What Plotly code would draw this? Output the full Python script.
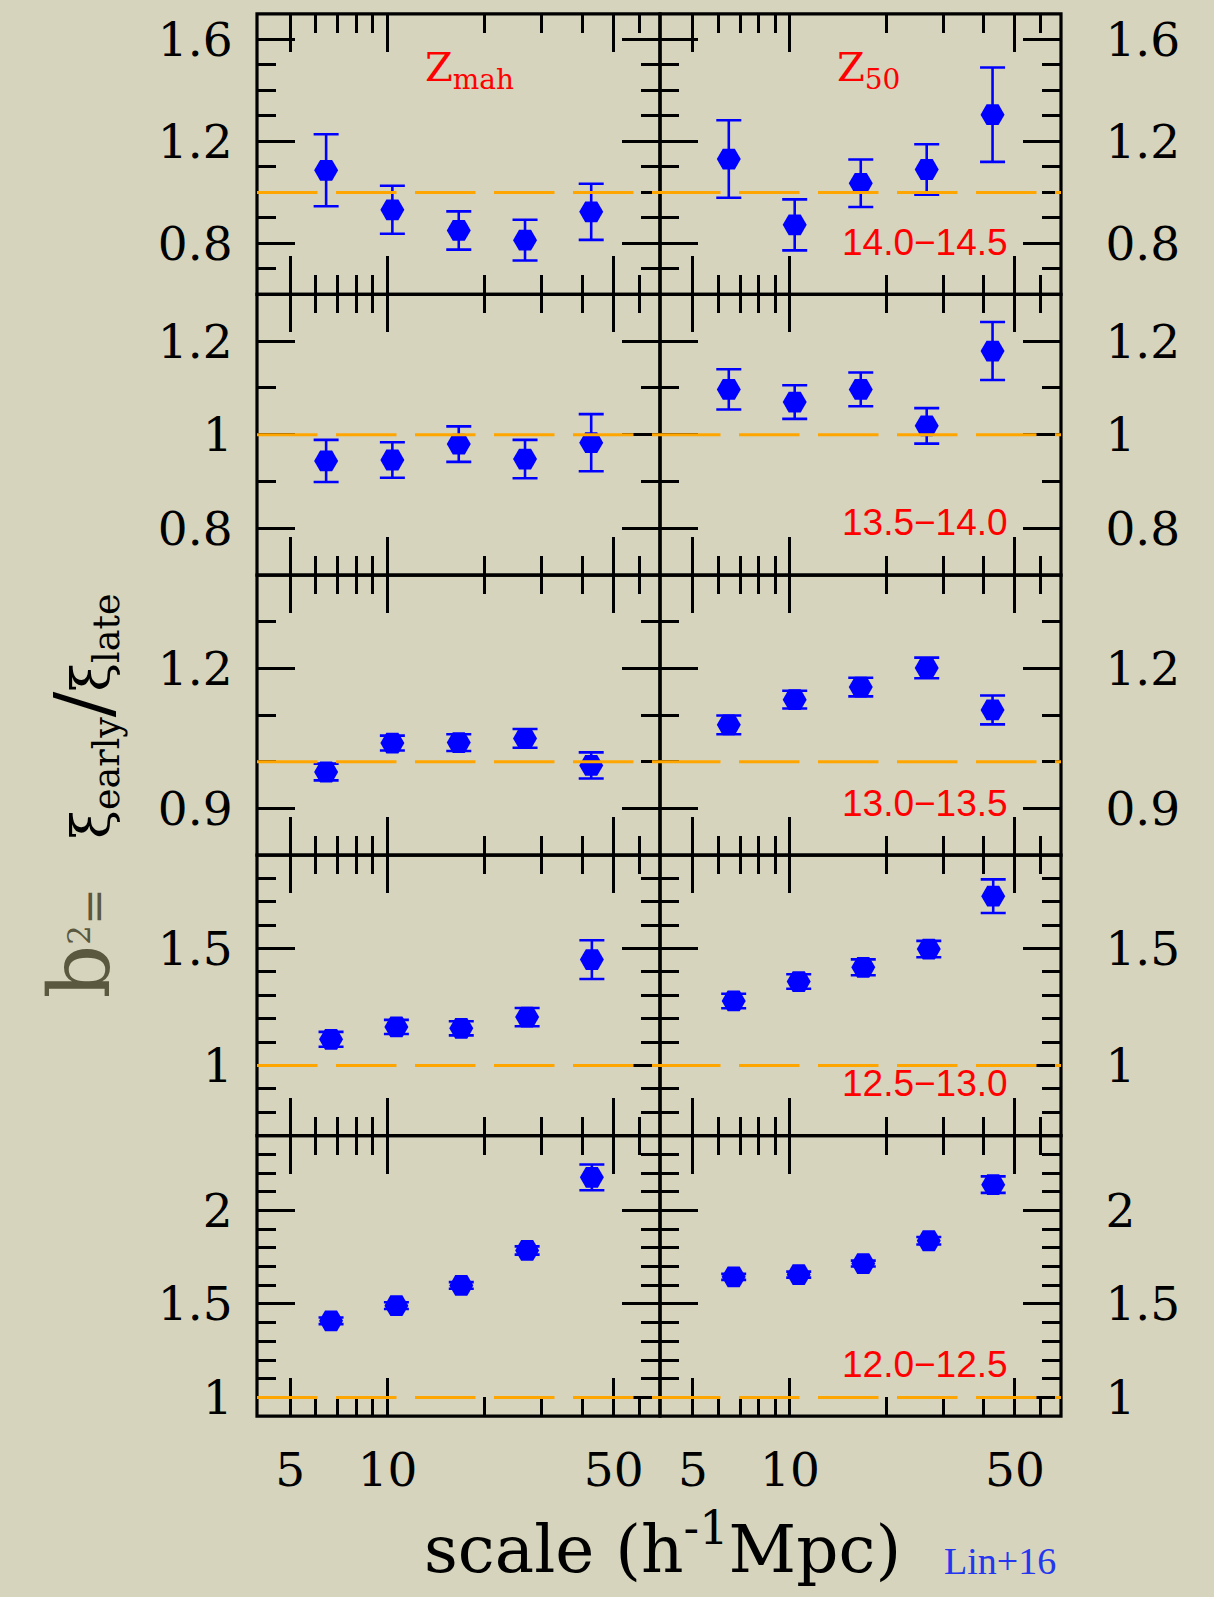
import math
import plotly.graph_objects as go

W, H = 1214, 1597

# ---------------- data ----------------
# separation scale (h^-1 Mpc) of the bins
scale_hi = [6.46, 10.35, 16.6, 26.6, 42.6]   # upper three mass bins
scale_lo = [6.69, 10.65, 16.9, 27.0, 42.8]   # lower two mass bins

mass_bins = ["14.0\u221214.5", "13.5\u221214.0", "13.0\u221213.5", "12.5\u221213.0", "12.0\u221212.5"]

# b^2 = xi_early / xi_late  (left column: z_mah, right column: z_50)
zmah_140 = [1.087, 0.932, 0.851, 0.813, 0.924]
zmah_140_err = [0.141, 0.094, 0.075, 0.080, 0.110]
z50_140 = [1.131, 0.873, 1.036, 1.090, 1.305]
z50_140_err = [0.152, 0.100, 0.093, 0.099, 0.185]

zmah_135 = [0.944, 0.946, 0.980, 0.948, 0.983]
zmah_135_err = [0.045, 0.038, 0.038, 0.041, 0.061]
z50_135 = [1.097, 1.070, 1.097, 1.019, 1.179]
z50_135_err = [0.043, 0.036, 0.036, 0.038, 0.062]

zmah_130 = [0.978, 1.040, 1.041, 1.050, 0.992]
zmah_130_err = [0.018, 0.016, 0.018, 0.020, 0.028]
z50_130 = [1.079, 1.133, 1.160, 1.201, 1.111]
z50_130_err = [0.020, 0.019, 0.020, 0.022, 0.031]

zmah_125 = [1.112, 1.165, 1.159, 1.207, 1.453]
zmah_125_err = [0.032, 0.030, 0.030, 0.039, 0.083]
z50_125 = [1.276, 1.359, 1.420, 1.498, 1.724]
z50_125_err = [0.031, 0.031, 0.034, 0.035, 0.072]

zmah_120 = [1.410, 1.491, 1.599, 1.786, 2.177]
zmah_120_err = [0.018, 0.018, 0.018, 0.022, 0.069]
z50_120 = [1.645, 1.657, 1.716, 1.838, 2.138]
z50_120_err = [0.016, 0.016, 0.016, 0.020, 0.044]

# y-axis ranges / ticks per row
y_ranges = [[0.6, 1.7], [0.7, 1.3], [0.8, 1.4], [0.7, 1.9], [0.9, 2.4]]
y_major = [[0.8, 1.2, 1.6], [0.8, 1.0, 1.2], [0.9, 1.2], [1.0, 1.5], [1.0, 1.5, 2.0]]
y_major_txt = [["0.8", "1.2", "1.6"], ["0.8", "1", "1.2"], ["0.9", "1.2"], ["1", "1.5"], ["1", "1.5", "2"]]
y_minor = [[0.7, 0.9, 1.0, 1.1, 1.3, 1.4, 1.5],
           [0.9, 1.1],
           [1.0, 1.1, 1.3],
           [0.8, 0.9, 1.1, 1.2, 1.3, 1.4, 1.6, 1.7, 1.8],
           [1.1, 1.2, 1.3, 1.4, 1.6, 1.7, 1.8, 1.9, 2.1, 2.2, 2.3]]

x_major = [5, 10, 50]
x_major_txt = ["5", "10", "50"]
x_minor = [6, 7, 8, 9, 20, 30, 40, 60]
x_range = [3.95, 69.5]

rows = [
    (scale_hi, zmah_140, zmah_140_err, z50_140, z50_140_err),
    (scale_hi, zmah_135, zmah_135_err, z50_135, z50_135_err),
    (scale_hi, zmah_130, zmah_130_err, z50_130, z50_130_err),
    (scale_lo, zmah_125, zmah_125_err, z50_125, z50_125_err),
    (scale_lo, zmah_120, zmah_120_err, z50_120, z50_120_err),
]

# ---------------- layout geometry (pixels) ----------------
col_px = [(257, 660), (660, 1061)]
row_px = [12, 294.5, 577, 859, 1141.5, 1424]

BG = "#d6d4bc"
BLUE = "#0000ff"
TICKFONT = dict(family="DejaVu Serif", size=47, color="black")

fig = go.Figure()
layout = dict(
    width=W, height=H, autosize=False,
    margin=dict(l=0, r=0, t=0, b=0),
    paper_bgcolor=BG, plot_bgcolor=BG,
    showlegend=False,
    shapes=[], annotations=[],
)
frames = []
reflines = []

for r in range(5):
    xs, ya, ea, yb, eb = rows[r]
    for c in range(2):
        i = r * 2 + c + 1
        sfx = "" if i == 1 else str(i)
        yv, ev = (ya, ea) if c == 0 else (yb, eb)
        fig.add_trace(go.Scatter(
            x=xs, y=yv, mode="markers",
            xaxis="x" + sfx, yaxis="y" + sfx,
            marker=dict(symbol="hexagon2", size=24, color=BLUE, line=dict(width=0)),
            error_y=dict(type="data", array=ev, visible=True, color=BLUE,
                         thickness=2.6, width=12.5),
            cliponaxis=False,
        ))
        x0, x1 = col_px[c]
        y_top, y_bot = row_px[r], row_px[r + 1]
        layout["xaxis" + sfx] = dict(
            type="log", range=[math.log10(x_range[0]), math.log10(x_range[1])],
            domain=[x0 / W, x1 / W], anchor="y" + sfx,
            showgrid=False, zeroline=False,
            showline=True, linecolor="black", linewidth=1, mirror="allticks",
            ticks="inside", ticklen=38, tickwidth=2.6, tickcolor="black",
            tickmode="array", tickvals=x_major, ticktext=x_major_txt,
            showticklabels=(r == 4), tickfont=TICKFONT, ticklabelstandoff=12,
            minor=dict(ticks="inside", ticklen=19, tickwidth=2.6, tickcolor="black",
                       tickmode="array", tickvals=x_minor, showgrid=False),
        )
        layout["yaxis" + sfx] = dict(
            range=y_ranges[r],
            domain=[1 - y_bot / H, 1 - y_top / H], anchor="x" + sfx,
            side="left" if c == 0 else "right",
            showgrid=False, zeroline=False,
            showline=True, linecolor="black", linewidth=1, mirror="allticks",
            ticks="inside", ticklen=38, tickwidth=2.6, tickcolor="black",
            tickmode="array", tickvals=y_major[r], ticktext=y_major_txt[r],
            tickfont=TICKFONT, ticklabelstandoff=14 if c == 0 else 34,
            minor=dict(ticks="inside", ticklen=19, tickwidth=2.6, tickcolor="black",
                       tickmode="array", tickvals=y_minor[r], showgrid=False),
        )
        frames.append(dict(
            type="rect", xref="x" + sfx + " domain", yref="y" + sfx + " domain",
            x0=0, x1=1, y0=0, y1=1, layer="above",
            line=dict(color="black", width=3.2), fillcolor="rgba(0,0,0,0)",
        ))
        # dashed reference line at b^2 = 1
        reflines.append(dict(
            type="line", xref="x" + sfx + " domain", yref="y" + sfx,
            x0=0, x1=1, y0=1, y1=1, layer="above",
            line=dict(color="#ffa500", width=3, dash="60.5px,18.5px"),
        ))
        if c == 1:
            layout["annotations"].append(dict(
                text=mass_bins[r], x=925 / W, y=1 - (y_top + 230) / H,
                xref="paper", yref="paper", showarrow=False,
                xanchor="center", yanchor="middle",
                font=dict(family="Liberation Sans", size=37, color="#ff0000"),
            ))

layout["shapes"] = frames + reflines

# column labels
layout["annotations"].append(dict(
    text="Z<sub>mah</sub>", x=469 / W, y=1 - 68 / H, xref="paper", yref="paper",
    showarrow=False, xanchor="center", yanchor="middle",
    font=dict(family="DejaVu Serif", size=40, color="#ff0000")))
layout["annotations"].append(dict(
    text="Z<sub>50</sub>", x=868 / W, y=1 - 68 / H, xref="paper", yref="paper",
    showarrow=False, xanchor="center", yanchor="middle",
    font=dict(family="DejaVu Serif", size=40, color="#ff0000")))

# x-axis title
layout["annotations"].append(dict(
    text="scale (h<sup>-1</sup>Mpc)", x=662 / W, y=1 - 1553 / H,
    xref="paper", yref="paper", showarrow=False, xanchor="center", yanchor="middle",
    font=dict(family="DejaVu Serif", size=66, color="black")))

# credit
layout["annotations"].append(dict(
    text="Lin+16", x=1000 / W, y=1 - 1570 / H,
    xref="paper", yref="paper", showarrow=False, xanchor="center", yanchor="middle",
    font=dict(family="Liberation Serif", size=38, color="#2436f0")))

# y-axis title
ytitle = ("<span style='font-size:84px;color:#5a583f'>b</span>"
          "<span style='font-size:44px;color:#5a583f'><sup>2</sup>=</span>"
          "\u00a0\u00a0\u00a0"
          "\u03be<sub>early</sub><span style='font-size:76px'>/</span>\u03be<sub>late</sub>")
layout["annotations"].append(dict(
    text=ytitle, x=80 / W, y=1 - 800 / H, textangle=-90,
    xref="paper", yref="paper", showarrow=False, xanchor="center", yanchor="middle",
    font=dict(family="DejaVu Serif", size=52, color="black")))

fig.update_layout(**layout)
fig.write_html("out.html")
